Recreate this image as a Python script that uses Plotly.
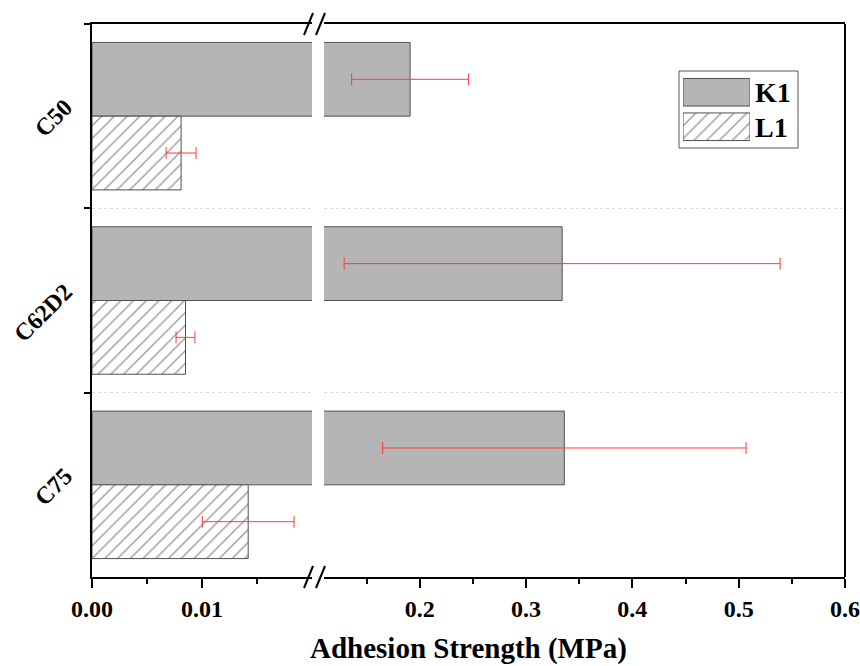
import plotly.graph_objects as go

categories = ["C50", "C62D2", "C75"]
k1_values = [0.191, 0.334, 0.336]
k1_errors = [0.055, 0.205, 0.171]
l1_values = [0.0081, 0.0085, 0.0142]
l1_errors = [0.00136, 0.00086, 0.00417]
series_names = ["K1", "L1"]

left_range = [0, 0.02]
right_range = [0.11, 0.6]
left_ticks = [0, 0.01]
left_ticktext = ["0.00", "0.01"]
left_minor = [0.005, 0.015]
right_ticks = [0.2, 0.3, 0.4, 0.5, 0.6]
right_minor = [0.15, 0.25, 0.35, 0.45, 0.55]

W, H = 860, 666
L, R, T, B = 92, 845, 24, 577


def px_x(p):
    return (p - L) / (R - L)


def px_y(p):
    return (B - p) / (B - T)


FONT = "Times New Roman, Liberation Serif, serif"
K1_FILL = "#b5b5b5"
EDGE = "#505050"
ERR = "#ff3b3b"
hatch = dict(shape="/", size=9, solidity=0.16, fgcolor="#3a3a3a", bgcolor="white", fillmode="overlay")

fig = go.Figure()

# left segment
fig.add_trace(go.Bar(y=categories, x=k1_values, orientation="h", name=series_names[0],
                     marker=dict(color=K1_FILL, line=dict(color=EDGE, width=1)),
                     xaxis="x", yaxis="y", showlegend=False))
fig.add_trace(go.Bar(y=categories, x=l1_values, orientation="h", name=series_names[1],
                     marker=dict(color="white", pattern=hatch, line=dict(color=EDGE, width=1)),
                     error_x=dict(type="data", array=l1_errors, color=ERR, thickness=1, width=6),
                     xaxis="x", yaxis="y", showlegend=False))
# right segment
fig.add_trace(go.Bar(y=categories, x=k1_values, orientation="h", name=series_names[0],
                     marker=dict(color=K1_FILL, line=dict(color=EDGE, width=1)),
                     error_x=dict(type="data", array=k1_errors, color=ERR, thickness=1, width=6),
                     xaxis="x2", yaxis="y", showlegend=False))
fig.add_trace(go.Bar(y=categories, x=l1_values, orientation="h", name=series_names[1],
                     marker=dict(color="white", pattern=hatch, line=dict(color=EDGE, width=1)),
                     xaxis="x2", yaxis="y", showlegend=False))

# legend swatches (mini subplot)
fig.add_trace(go.Bar(y=[series_names[0]], x=[1], orientation="h",
                     marker=dict(color=K1_FILL, line=dict(color=EDGE, width=1)),
                     xaxis="x3", yaxis="y3", showlegend=False, hoverinfo="skip"))
fig.add_trace(go.Bar(y=[series_names[1]], x=[1], orientation="h",
                     marker=dict(color="white", pattern=hatch, line=dict(color=EDGE, width=1)),
                     xaxis="x3", yaxis="y3", showlegend=False, hoverinfo="skip"))

tickfont = dict(family=FONT, size=24, color="black", weight="bold")

left_end = px_x(312)
right_start = px_x(324)

fig.update_layout(
    width=W, height=H,
    margin=dict(l=L, r=W - R, t=T, b=H - B, autoexpand=False),
    plot_bgcolor="white", paper_bgcolor="white",
    barmode="group", bargap=0.2, bargroupgap=0,
    font=dict(family=FONT, color="black"),
    xaxis=dict(domain=[0, left_end], range=left_range, tickvals=left_ticks, ticktext=left_ticktext,
               showgrid=False, zeroline=False, showline=True, linecolor="black", linewidth=2,
               mirror=True, ticks="outside", ticklen=9, tickwidth=2, tickcolor="black",
               minor=dict(tickvals=left_minor, ticks="outside", ticklen=5, tickwidth=2, tickcolor="black"),
               tickfont=tickfont, anchor="y", automargin=False),
    xaxis2=dict(domain=[right_start, 1], range=right_range, tickvals=right_ticks,
                tickformat=".1f",
                showgrid=False, zeroline=False, showline=True, linecolor="black", linewidth=2,
                mirror=True, ticks="outside", ticklen=9, tickwidth=2, tickcolor="black",
                minor=dict(tickvals=right_minor, ticks="outside", ticklen=5, tickwidth=2, tickcolor="black"),
                tickfont=tickfont, anchor="y", automargin=False),
    yaxis=dict(domain=[0, 1], categoryorder="array", categoryarray=categories, autorange="reversed",
               tickson="boundaries", ticks="outside", ticklen=6, tickwidth=2, tickcolor="black",
               showline=True, linecolor="black", linewidth=2,
               showgrid=True, gridcolor="#dcdcdc", griddash="dot", gridwidth=1,
               tickangle=-45, tickfont=tickfont, ticklabelstandoff=20, ticklabelshift=12,
               anchor="x", automargin=False),
    xaxis3=dict(domain=[px_x(683), px_x(750)], range=[0, 1], visible=False, anchor="y3",
                fixedrange=True, automargin=False),
    yaxis3=dict(domain=[px_y(144), px_y(75)], categoryorder="array", categoryarray=series_names,
                autorange="reversed", anchor="x3", side="right", showline=False, showgrid=False,
                ticks="", zeroline=False, tickfont=dict(family=FONT, size=28, color="black", weight="bold"),
                ticklabelstandoff=4, fixedrange=True, automargin=False),
)

shapes = []
# right frame edge
shapes.append(dict(type="line", xref="paper", yref="paper", x0=1, x1=1, y0=0, y1=1,
                   line=dict(color="black", width=2)))
# axis break marks (top and bottom)
for yc in (T, B):
    for x0 in (304, 316):
        shapes.append(dict(type="line", xref="paper", yref="paper",
                           x0=px_x(x0), y0=px_y(yc + 11), x1=px_x(x0 + 9), y1=px_y(yc - 11),
                           line=dict(color="black", width=2)))
# legend border
shapes.append(dict(type="rect", xref="paper", yref="paper",
                   x0=px_x(679), x1=px_x(798), y0=px_y(148), y1=px_y(71),
                   line=dict(color="#555555", width=1), fillcolor="rgba(0,0,0,0)"))
fig.update_layout(shapes=shapes)

fig.add_annotation(text="Adhesion Strength (MPa)", xref="paper", yref="paper",
                   x=0.5, y=px_y(648), xanchor="center", yanchor="middle", showarrow=False,
                   font=dict(family=FONT, size=29, color="black", weight="bold"))

fig.write_html("out.html")
